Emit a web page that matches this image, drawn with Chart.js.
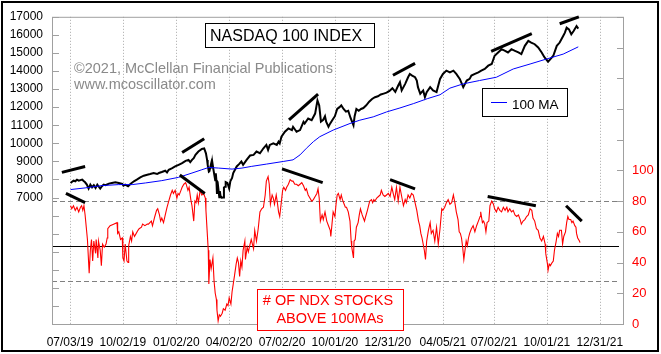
<!DOCTYPE html>
<html>
<head>
<meta charset="utf-8">
<script src="https://cdn.jsdelivr.net/npm/chart.js@4.4.0/dist/chart.umd.min.js"></script>
<style>
  html, body { margin: 0; padding: 0; background: #fff; }
  canvas { display: block; }
</style>
</head>
<body>
<canvas id="chart" width="661" height="354"></canvas>
<script>
// all x values are calendar days after 07/03/19
const tickDays = [0, 91, 183, 274, 365, 456, 547, 642, 730, 821, 912];
const tickLabels = ['07/03/19', '10/02/19', '01/02/20', '04/02/20', '07/02/20', '10/01/20',
  '12/31/20', '04/05/21', '07/02/21', '10/01/21', '12/31/21'];
const ndxTicks = [0, 1000, 2000, 3000, 4000, 5000, 6000, 7000, 8000, 9000, 10000, 11000,
  12000, 13000, 14000, 15000, 16000, 17000];
const pctTicks = [0, 20, 40, 60, 80, 100, 120, 140, 160, 180, 200];
const refLevels = [80, 28];
const baseLevel = 51;

// NASDAQ 100 index, [day, value]
const ndx = [[1,7806],[3,7860],[6,7934],[9,7897],[12,7988],[15,7934],[21,7988],[24,7897],[26,7842],
  [29,7714],[32,7495],[35,7714],[38,7568],[41,7678],[44,7531],[47,7714],[49,7623],[52,7495],[55,7623],
  [58,7714],[61,7678],[67,7769],[72,7806],[78,7842],[84,7806],[90,7751],[92,7659],[95,7714],[100,7623],
  [104,7751],[110,7897],[115,7988],[121,8116],[127,8208],[133,8263],[138,8299],[144,8354],[150,8299],
  [153,8354],[158,8409],[164,8482],[167,8391],[170,8537],[176,8628],[181,8720],[187,8811],[193,8902],
  [199,9030],[204,9085],[207,8957],[210,9085],[213,9177],[216,9359],[221,9542],[227,9688],[231,9718],
  [234,9446],[236,9079],[237,8800],[239,8436],[240,8462],[243,8877],[244,8611],[245,8952],[247,8530],
  [250,7948],[251,8340],[252,7952],[253,7200],[254,7900],[257,7020],[258,7350],[259,7100],[261,6994],
  [264,7006],[265,7554],[267,7600],[268,7850],[271,7800],[274,7500],[276,7897],[279,8080],[281,8354],
  [287,8720],[291,8848],[295,8994],[298,8811],[304,9085],[310,9323],[316,9360],[321,9542],[327,9451],
  [333,9725],[338,9908],[341,9634],[344,9908],[350,9999],[356,9908],[359,10091],[361,9999],[364,10365],
  [370,10639],[376,10822],[382,10730],[384,10913],[390,10639],[396,10730],[402,11187],[404,11096],
  [410,11370],[416,11279],[422,11644],[426,12377],[429,12100],[432,11200],[436,11300],[439,11500],
  [441,11200],[445,10913],[448,11100],[452,11300],[456,11500],[460,11900],[464,12000],[467,12100],
  [471,11900],[475,11750],[479,11800],[483,11400],[488,11000],[490,11500],[493,11900],[497,11800],
  [501,11900],[505,11950],[510,12100],[515,12300],[520,12450],[525,12550],[530,12600],[535,12700],
  [540,12750],[545,12800],[550,12900],[555,13050],[560,12850],[565,13200],[568,13381],[571,12924],
  [577,13290],[582,13655],[585,13838],[589,13747],[594,13655],[597,13473],[599,13107],[603,12741],
  [608,12924],[611,12558],[614,12833],[620,13107],[625,12924],[631,12833],[637,13564],[642,13838],
  [648,14021],[654,13929],[660,14021],[665,13838],[671,13564],[677,13107],[680,13290],[683,13472],
  [688,13564],[691,13747],[697,13838],[703,13929],[708,14021],[714,14112],[720,14295],[726,14387],
  [731,14843],[737,15026],[743,15209],[749,15118],[754,15026],[760,15209],[766,15118],[772,15026],
  [777,14935],[783,15392],[789,15666],[794,15575],[800,15483],[806,15300],[812,15026],[817,14752],
  [823,14514],[827,14661],[832,14843],[838,15392],[843,15575],[849,15940],[852,16123],[855,16397],
  [859,16306],[863,16032],[867,16215],[872,16489],[875,16343]];

// 100-day moving average of the index
const ma100 = [[1,7440],[26,7531],[55,7659],[84,7714],[107,7714],[130,7806],[158,7934],[187,8116],
  [210,8354],[227,8537],[239,8665],[256,8628],[279,8573],[296,8628],[312,8720],[338,8848],[367,8994],
  [384,9085],[396,9359],[407,9725],[419,10091],[430,10365],[453,10730],[482,11096],[499,11279],
  [522,11462],[545,11736],[568,11955],[591,12193],[615,12467],[637,12686],[654,13052],[677,13290],
  [705,13473],[734,13655],[763,14112],[792,14387],[820,14661],[849,14935],[875,15337]];

// number of NDX stocks above their 100-day MA
const breadth = [[1,77],[3,75],[6,77],[9,74],[12,76],[15,73],[18,76],[20,77],[22,74],[24,77],[26,71],
  [28,63],[30,55],[33,33],[35,48],[37,55],[39,41],[41,54],[44,46],[45,55],[48,43],[49,54],[52,48],
  [54,38],[56,52],[59,50],[62,52],[64,56],[65,62],[69,64],[75,65],[81,66],[82,59],[84,60],[87,55],
  [90,56],[91,43],[93,41],[95,52],[98,41],[100,40],[101,51],[104,57],[106,54],[108,60],[111,57],
  [114,59],[117,61],[119,62],[123,63],[125,65],[129,64],[133,65],[135,65],[140,67],[142,64],[146,70],
  [149,74],[151,75],[154,71],[156,67],[158,69],[161,66],[164,71],[167,76],[170,80],[173,84],[176,87],
  [178,85],[181,87],[184,82],[186,85],[188,84],[191,87],[193,89],[196,91],[199,92],[200,91],[203,87],
  [205,89],[208,81],[210,77],[213,67],[215,80],[217,79],[219,84],[221,79],[224,87],[227,84],[230,85],
  [233,82],[234,74],[236,61],[238,48],[239,26],[241,42],[243,36],[246,43],[248,28],[250,20],[252,16],
  [253,9],[255,2],[257,6],[259,5],[262,7],[264,10],[267,9],[270,13],[272,12],[274,17],[277,13],
  [279,21],[281,26],[283,31],[286,39],[288,43],[290,40],[292,31],[294,41],[296,37],[298,48],[301,54],
  [302,42],[305,50],[307,47],[310,52],[312,55],[316,49],[318,61],[321,54],[324,62],[327,73],[330,75],
  [333,76],[336,84],[338,93],[341,96],[343,91],[345,78],[348,84],[350,82],[352,78],[355,84],[357,79],
  [359,73],[361,70],[364,80],[366,87],[368,89],[371,87],[373,89],[376,91],[379,94],[382,93],[384,93],
  [387,91],[390,91],[393,90],[396,91],[399,92],[402,90],[405,87],[407,88],[410,84],[413,82],[416,80],
  [419,81],[422,83],[425,85],[427,88],[429,82],[431,67],[434,71],[436,68],[439,73],[442,67],[445,64],
  [448,61],[449,57],[451,65],[453,73],[456,70],[458,78],[460,84],[462,85],[465,81],[467,84],[469,81],
  [472,78],[474,76],[476,76],[479,73],[482,67],[484,54],[485,50],[488,43],[489,54],[491,55],[493,63],
  [496,66],[498,71],[500,75],[503,71],[505,69],[507,67],[509,70],[512,74],[514,77],[516,80],[519,81],
  [521,79],[523,81],[525,80],[528,82],[531,83],[534,84],[536,87],[539,84],[542,83],[545,84],[548,85],
  [551,83],[554,89],[557,84],[559,81],[562,89],[565,80],[568,89],[571,83],[574,77],[577,81],[579,79],
  [582,84],[585,82],[588,85],[591,84],[594,79],[597,74],[600,67],[602,64],[604,59],[606,56],[608,52],
  [610,48],[612,42],[614,54],[617,61],[620,66],[622,59],[625,61],[628,54],[631,63],[634,52],[637,62],
  [640,75],[642,74],[645,76],[648,79],[651,81],[654,78],[657,79],[660,84],[663,78],[665,73],[668,68],
  [670,60],[672,59],[674,56],[676,50],[678,42],[680,48],[682,54],[684,51],[686,56],[688,59],[691,62],
  [694,64],[697,60],[700,64],[703,67],[706,70],[707,73],[710,66],[712,67],[714,65],[716,60],[718,66],
  [721,67],[723,77],[726,80],[729,78],[731,75],[734,73],[737,76],[740,74],[743,73],[746,76],[749,74],
  [752,76],[754,73],[757,75],[760,73],[763,74],[766,71],[769,70],[772,71],[775,68],[777,65],[780,67],
  [783,68],[786,70],[789,71],[792,75],[795,74],[797,69],[800,67],[803,62],[806,61],[809,56],[812,54],
  [815,57],[818,52],[819,46],[822,39],[823,35],[825,39],[827,38],[830,40],[832,41],[834,48],[837,54],
  [839,59],[841,57],[843,61],[846,61],[848,52],[850,57],[853,60],[855,66],[857,70],[859,68],[862,68],
  [864,66],[866,67],[869,64],[871,63],[872,59],[874,56],[877,54],[878,53]];

// hand-drawn divergence lines: [day1, value1, day2, value2]
const ndxTrends = [[-14,8390,26,8720],[193,9487,231,10255],[377,11297,427,12723],
  [556,13765,594,14423],[725,15081,795,16068],[843,16617,876,17000]];
const breadthTrends = [[-7,85,26,79],[189,97,232,85],[365,101,435,92],
  [551,94,594,88],[719,83,802,77],[854,77,881,67]];

const FONT = '"Liberation Sans", Arial, sans-serif';

const pts = arr => arr.map(([x, y]) => ({ x, y }));
const seg = (t, axis) => ({
  data: [{ x: t[0], y: t[1] }, { x: t[2], y: t[3] }],
  yAxisID: axis, borderColor: '#000', borderWidth: 3, pointRadius: 0, order: 0, clip: false
});

const decor = {
  id: 'decor',
  beforeDatasetsDraw(chart) {
    const { ctx, chartArea: a, scales } = chart;
    ctx.save();
    // dotted date grid
    ctx.strokeStyle = '#a8a8a8';
    ctx.lineWidth = 1;
    ctx.setLineDash([1, 2]);
    tickDays.forEach(d => {
      const x = Math.round(scales.x.getPixelForValue(d)) + 0.5;
      ctx.beginPath(); ctx.moveTo(x, a.top); ctx.lineTo(x, a.bottom); ctx.stroke();
    });
    // dashed reference levels
    ctx.strokeStyle = '#808080';
    ctx.setLineDash([5, 3]);
    refLevels.forEach(v => {
      const y = Math.round(scales.y2.getPixelForValue(v)) + 0.5;
      ctx.beginPath(); ctx.moveTo(a.left, y); ctx.lineTo(a.right - 6, y); ctx.stroke();
    });
    ctx.setLineDash([]);
    ctx.strokeStyle = '#000';
    const yb = Math.round(scales.y2.getPixelForValue(baseLevel)) + 0.5;
    ctx.beginPath(); ctx.moveTo(a.left, yb); ctx.lineTo(a.right - 4, yb); ctx.stroke();
    // plot frame and inward tick marks
    ctx.strokeStyle = '#a0a0a0';
    ctx.strokeRect(a.left + 0.5, a.top + 0.5, a.right - a.left, a.bottom - a.top);
    ndxTicks.forEach(v => {
      const y = Math.round(scales.y.getPixelForValue(v)) + 0.5;
      ctx.beginPath(); ctx.moveTo(a.left, y); ctx.lineTo(a.left + 7, y); ctx.stroke();
    });
    pctTicks.forEach(v => {
      const y = Math.round(scales.y2.getPixelForValue(v)) + 0.5;
      ctx.beginPath(); ctx.moveTo(a.right - 6, y); ctx.lineTo(a.right, y); ctx.stroke();
    });
    ctx.restore();
  },
  afterDraw(chart) {
    const { ctx } = chart;
    ctx.save();
    ctx.textBaseline = 'alphabetic';
    // title box
    ctx.fillStyle = '#fff';
    ctx.fillRect(205, 23, 169, 24);
    ctx.strokeStyle = '#000';
    ctx.lineWidth = 1;
    ctx.strokeRect(205.5, 23.5, 169, 24);
    ctx.fillStyle = '#000';
    ctx.font = '16px ' + FONT;
    ctx.fillText('NASDAQ 100 INDEX', 210, 41);
    // copyright
    ctx.fillStyle = '#8a8a8a';
    ctx.font = '14.5px ' + FONT;
    ctx.fillText('\u00a92021, McClellan Financial Publications', 74, 73);
    ctx.fillText('www.mcoscillator.com', 74, 89);
    // MA legend
    ctx.fillStyle = '#fff';
    ctx.fillRect(482, 88, 85, 28);
    ctx.strokeRect(482.5, 88.5, 85, 28);
    ctx.strokeStyle = '#0000ff';
    ctx.beginPath(); ctx.moveTo(491, 102.5); ctx.lineTo(507, 102.5); ctx.stroke();
    ctx.fillStyle = '#000';
    ctx.font = '13.5px ' + FONT;
    ctx.fillText('100 MA', 512, 109);
    // breadth label
    ctx.fillStyle = '#fff';
    ctx.fillRect(257, 289, 146, 41);
    ctx.strokeStyle = '#ff0000';
    ctx.strokeRect(257.5, 289.5, 146, 41);
    ctx.fillStyle = '#ff0000';
    ctx.font = '14.5px ' + FONT;
    ctx.textAlign = 'center';
    ctx.fillText('# OF NDX STOCKS', 328, 305);
    ctx.fillText('ABOVE 100MAs', 330, 323);
    // outer border
    ctx.strokeStyle = '#000';
    ctx.lineWidth = 2;
    ctx.strokeRect(2, 2, 656, 349);
    ctx.restore();
  }
};

new Chart(document.getElementById('chart'), {
  type: 'line',
  data: {
    datasets: [
      { data: pts(breadth), yAxisID: 'y2', borderColor: '#ff0000', borderWidth: 1.1, pointRadius: 0, order: 3 },
      { data: pts(ndx), yAxisID: 'y', borderColor: '#000', borderWidth: 2, pointRadius: 0, order: 2 },
      { data: pts(ma100), yAxisID: 'y', borderColor: '#0000ff', borderWidth: 1, pointRadius: 0, order: 1 },
      ...ndxTrends.map(t => seg(t, 'y')),
      ...breadthTrends.map(t => seg(t, 'y2'))
    ]
  },
  options: {
    responsive: false,
    animation: false,
    layout: { padding: { top: 14, left: 0, right: 0, bottom: 0 } },
    plugins: { legend: { display: false }, tooltip: { enabled: false } },
    scales: {
      x: {
        type: 'linear', min: -31, max: 952,
        afterBuildTicks: s => { s.ticks = tickDays.map(v => ({ value: v })); },
        afterFit: s => { s.height = 30; },
        grid: { display: false, drawTicks: false },
        border: { display: false },
        ticks: {
          autoSkip: false, maxRotation: 0, padding: 11, color: '#000',
          font: { family: FONT, size: 12 },
          callback: v => tickLabels[tickDays.indexOf(v)] || ''
        }
      },
      y: {
        position: 'left', min: 0, max: 17000,
        afterBuildTicks: s => { s.ticks = ndxTicks.map(v => ({ value: v })); },
        afterFit: s => { s.width = 52; },
        grid: { display: false, drawTicks: false },
        border: { display: false },
        ticks: {
          padding: 9, color: '#000', font: { family: FONT, size: 12 },
          callback: v => v >= 7000 ? String(v) : ''
        }
      },
      y2: {
        position: 'right', min: 0, max: 200,
        afterBuildTicks: s => { s.ticks = pctTicks.map(v => ({ value: v })); },
        afterFit: s => { s.width = 38; },
        grid: { display: false, drawTicks: false },
        border: { display: false },
        ticks: {
          padding: 9, color: '#ff0000', font: { family: FONT, size: 13 },
          callback: v => v <= 100 ? String(v) : ''
        }
      }
    }
  },
  plugins: [decor]
});
</script>
</body>
</html>
